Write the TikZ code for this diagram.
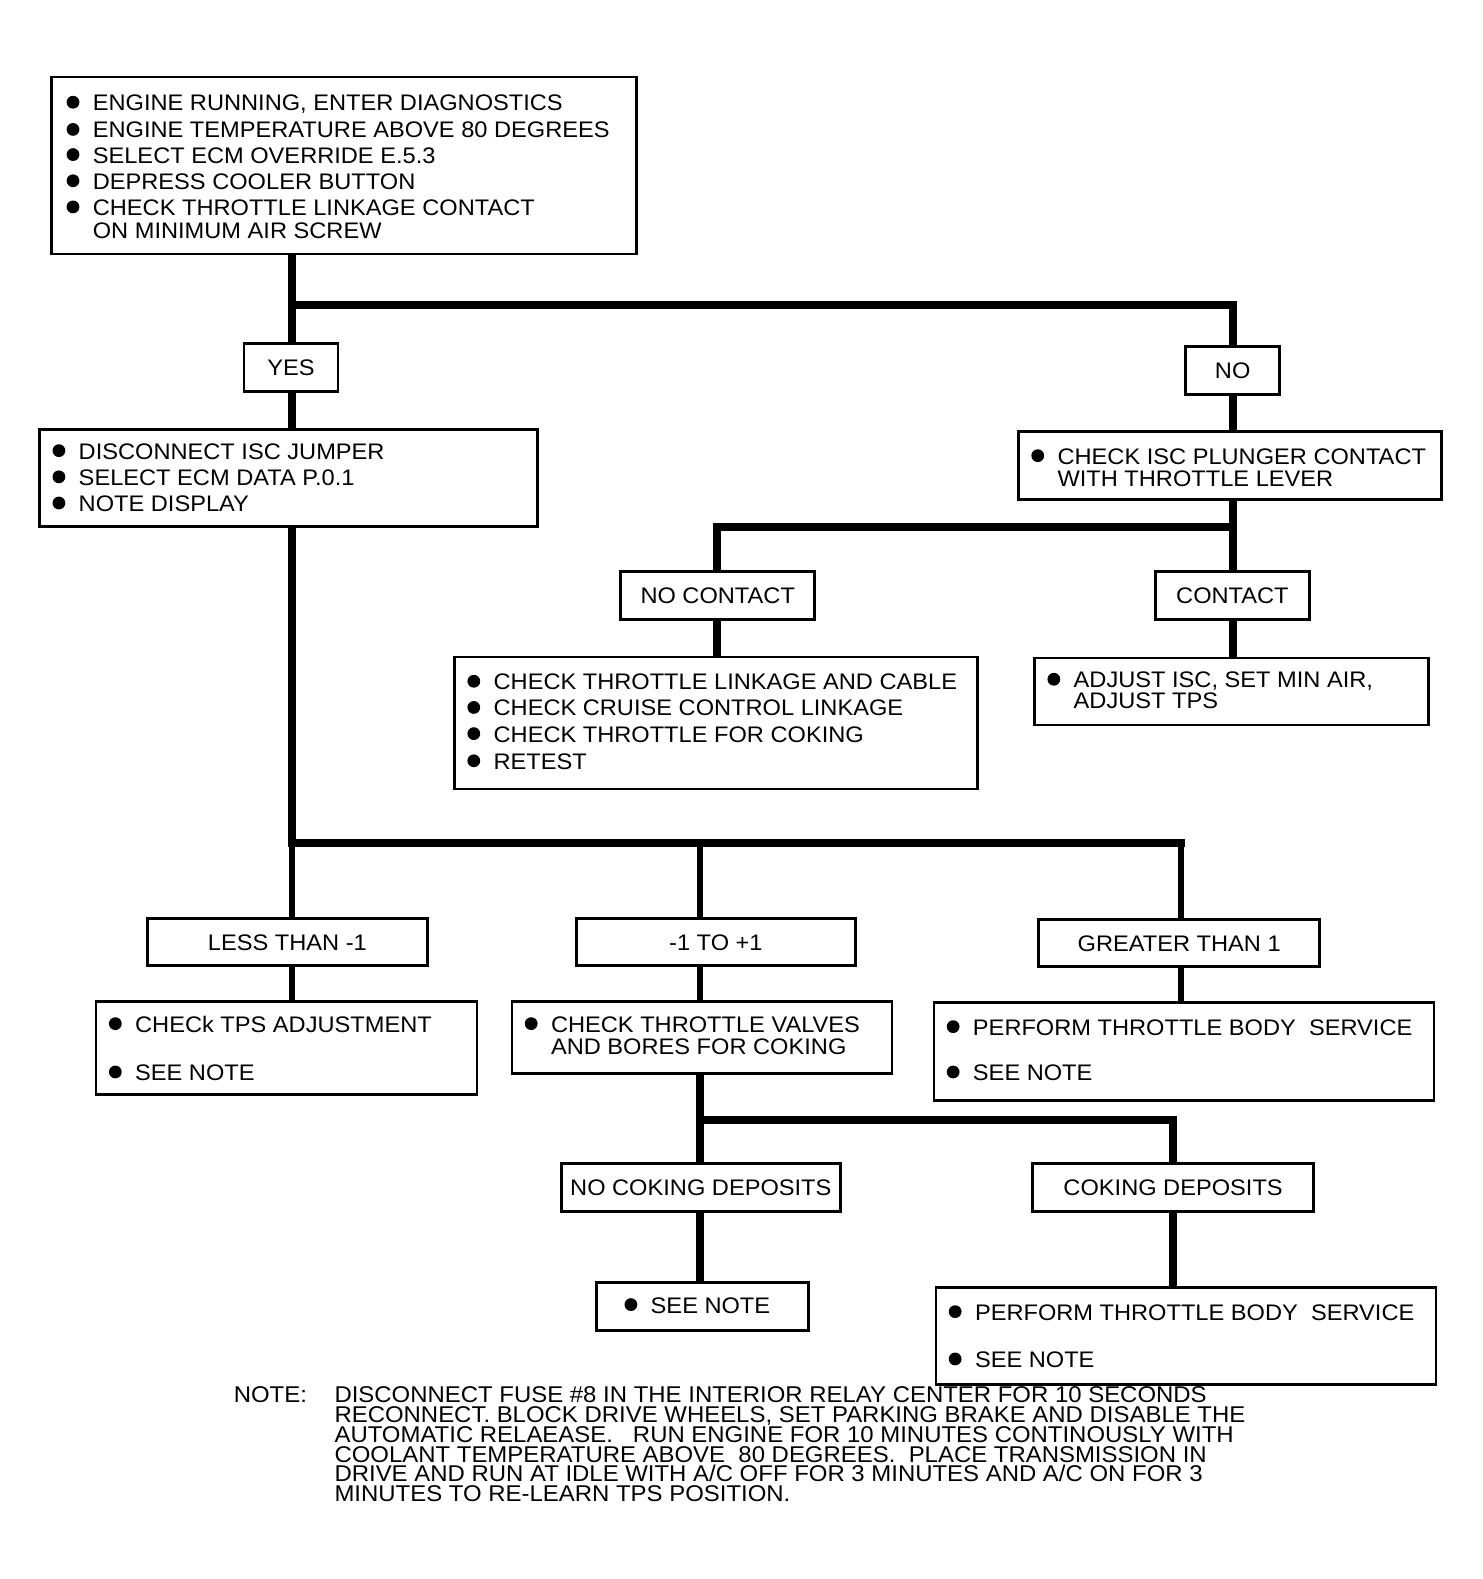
\documentclass[tikz,border=0pt]{standalone}
\usepackage{fontspec}
\setmainfont{Liberation Sans}[FakeStretch=1.05]
\begin{document}
\begin{tikzpicture}[x=1.007pt,y=-1.007pt,
  box/.style={draw,line width=2.8pt,inner sep=0pt,anchor=north west,font=\fontsize{22.5}{26}\selectfont},
  txt/.style={anchor=base west,inner sep=0pt,font=\fontsize{22.5}{26}\selectfont},
  notetxt/.style={anchor=base west,inner sep=0pt,font=\fontsize{22.8}{20}\selectfont},
  conn/.style={line width=8pt},
  thin/.style={line width=6.5pt}]
\newcommand\bnode[3]{\node[txt] (#1) at (#2) {#3};
  \fill ([shift={(-19.5,-8.5)}]#1.base west) circle (6.4pt);}
\useasboundingbox (0,0) rectangle (1471.7,1568);
% boxes
\node[box,minimum width=585,minimum height=177] (top) at (50,75) {};
\node[box,minimum width=94,minimum height=48] (yes) at (241,340) {YES};
\node[box,minimum width=94,minimum height=48] (no) at (1176,343) {NO};
\node[box,minimum width=498,minimum height=97] (isc) at (38,425) {};
\node[box,minimum width=423,minimum height=68] (plunger) at (1010,427) {};
\node[box,minimum width=194,minimum height=48] (nocontact) at (615,566) {NO CONTACT};
\node[box,minimum width=154,minimum height=48] (contact) at (1146,566) {CONTACT};
\node[box,minimum width=523,minimum height=132] (linkage) at (450,651) {};
\node[box,minimum width=394,minimum height=67] (adjust) at (1026,652) {};
\node[box,minimum width=280,minimum height=47] (less) at (145,911) {LESS THAN -1};
\node[box,minimum width=279,minimum height=47] (mid) at (571,911) {-1 TO +1};
\node[box,minimum width=281,minimum height=47] (gt) at (1030,912) {GREATER THAN 1};
\node[box,minimum width=381,minimum height=93] (tps) at (94,993) {};
\node[box,minimum width=380,minimum height=72] (valves) at (507,993) {};
\node[box,minimum width=500,minimum height=98] (tbs) at (926,994) {};
\node[box,minimum width=279,minimum height=48] (nocoking) at (556,1154) {NO COKING DEPOSITS};
\node[box,minimum width=281,minimum height=48] (coking) at (1024,1154) {COKING DEPOSITS};
\node[box,minimum width=212,minimum height=48] (seenote) at (591,1272) {};
\node[box,minimum width=500,minimum height=97] (tbs2) at (928,1277) {};
% texts
\bnode{t1}{92,110}{ENGINE RUNNING, ENTER DIAGNOSTICS}
\bnode{t2}{92,137}{ENGINE TEMPERATURE ABOVE 80 DEGREES}
\bnode{t3}{92,162}{SELECT ECM OVERRIDE E.5.3}
\bnode{t4}{92,188}{DEPRESS COOLER BUTTON}
\bnode{t5}{92,214}{CHECK THROTTLE LINKAGE CONTACT}
\node[txt] (t6) at (92,236.5) {ON MINIMUM AIR SCREW};
\bnode{i1}{78,456}{DISCONNECT ISC JUMPER}
\bnode{i2}{78,482}{SELECT ECM DATA P.0.1}
\bnode{i3}{78,508}{NOTE DISPLAY}
\bnode{p1}{1050,461}{CHECK ISC PLUNGER CONTACT}
\node[txt] (p2) at (1050,483) {WITH THROTTLE LEVER};
\bnode{l1}{490,685}{CHECK THROTTLE LINKAGE AND CABLE}
\bnode{l2}{490,711}{CHECK CRUISE CONTROL LINKAGE}
\bnode{l3}{490,737}{CHECK THROTTLE FOR COKING}
\bnode{l4}{490,764}{RETEST}
\bnode{a1}{1066,683}{ADJUST ISC, SET MIN AIR,}
\node[txt] (a2) at (1066,704) {ADJUST TPS};
\bnode{s1}{134,1025}{CHECk TPS ADJUSTMENT}
\bnode{s2}{134,1073}{SEE NOTE}
\bnode{v1}{547,1025}{CHECK THROTTLE VALVES}
\node[txt] (v2) at (547,1047) {AND BORES FOR COKING};
\bnode{g1}{966,1028}{PERFORM THROTTLE BODY\ \ SERVICE}
\bnode{g2}{966,1073}{SEE NOTE}
\bnode{n1}{646,1304}{SEE NOTE}
\bnode{c1}{968,1311}{PERFORM THROTTLE BODY\ \ SERVICE}
\bnode{c2}{968,1358}{SEE NOTE}
% note
\node[notetxt] (nl) at (232,1393) {NOTE:};
\node[notetxt] (nt1) at (332,1393) {DISCONNECT FUSE \#8 IN THE INTERIOR RELAY CENTER FOR 10 SECONDS};
\node[notetxt] (nt2) at (332,1412.6) {RECONNECT. BLOCK DRIVE WHEELS, SET PARKING BRAKE AND DISABLE THE};
\node[notetxt] (nt3) at (332,1432.2) {AUTOMATIC RELAEASE.\ \ \ RUN ENGINE FOR 10 MINUTES CONTINOUSLY WITH};
\node[notetxt] (nt4) at (332,1451.8) {COOLANT TEMPERATURE ABOVE\ \ 80 DEGREES.\ \ PLACE TRANSMISSION IN};
\node[notetxt] (nt5) at (332,1471.4) {DRIVE AND RUN AT IDLE WITH A/C OFF FOR 3 MINUTES AND A/C ON FOR 3};
\node[notetxt] (nt6) at (332,1491) {MINUTES TO RE-LEARN TPS POSITION.};
% junction coordinates
\coordinate (xa) at (290,0);
\coordinate (xb) at (1224,0);
\coordinate (xc) at (712,0);
\coordinate (xd) at (695,0);
\coordinate (xe) at (1173,0);
\coordinate (xf) at (1165,0);
\coordinate (j1) at (290,302.5);
\coordinate (j2) at (1224,302.5);
\coordinate (j3) at (712,523);
\coordinate (j4) at (1224,523);
\coordinate (j5) at (290,837);
\coordinate (j6) at (1173,837);
\coordinate (j7) at (695,837);
\coordinate (j8) at (695,1112);
\coordinate (j9) at (1165,1112);
% connectors
\draw[conn] (top.south -| xa) -- (yes.north -| xa);
\draw[conn] (j1) -- (j2) -- (no.north -| xb);
\draw[conn] (yes.south -| xa) -- (isc.north -| xa);
\draw[conn] (no.south -| xb) -- (plunger.north -| xb);
\draw[conn] (plunger.south -| xb) -- (contact.north -| xb);
\draw[conn] (j4) -- (j3) -- (nocontact.north -| xc);
\draw[conn] (nocontact.south -| xc) -- (linkage.north -| xc);
\draw[conn] (contact.south -| xb) -- (adjust.north -| xb);
\draw[conn] (isc.south -| xa) -- (j5);
\draw[conn,line cap=rect] (j5) -- (j6);
\draw[thin] ([yshift=4pt]j5) -- (less.north -| xa);
\draw[thin] ([yshift=4pt]j7) -- (mid.north -| xd);
\draw[thin] ([yshift=4pt]j6) -- (gt.north -| xe);
\draw[thin] (less.south -| xa) -- (tps.north -| xa);
\draw[thin] (mid.south -| xd) -- (valves.north -| xd);
\draw[thin] (gt.south -| xe) -- (tbs.north -| xe);
\draw[conn] (valves.south -| xd) -- (nocoking.north -| xd);
\draw[conn] (j8) -- (j9) -- (coking.north -| xf);
\draw[conn] (nocoking.south -| xd) -- (seenote.north -| xd);
\draw[conn] (coking.south -| xf) -- (tbs2.north -| xf);
\end{tikzpicture}
\end{document}
